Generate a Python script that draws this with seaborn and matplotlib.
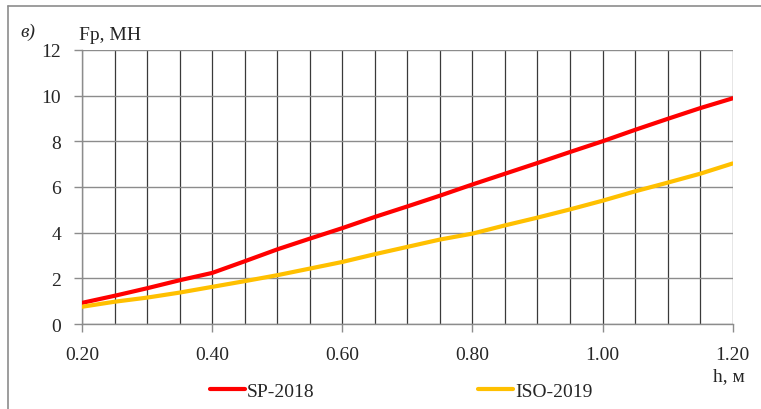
import numpy as np
import pandas as pd
import matplotlib
matplotlib.use("Agg")
import matplotlib.pyplot as plt
from matplotlib.lines import Line2D
from matplotlib.ticker import MultipleLocator
import seaborn as sns

# values
h = [0.20, 0.25, 0.30, 0.35, 0.40, 0.45, 0.50, 0.55, 0.60, 0.65, 0.70,
     0.75, 0.80, 0.85, 0.90, 0.95, 1.00, 1.05, 1.10, 1.15, 1.20]
sp_2018 = [0.93, 1.24, 1.57, 1.92, 2.24, 2.75, 3.27, 3.74, 4.20, 4.69, 5.15,
           5.62, 6.11, 6.58, 7.05, 7.53, 8.00, 8.50, 8.98, 9.45, 9.88]
iso_2019 = [0.76, 0.98, 1.16, 1.38, 1.63, 1.88, 2.14, 2.43, 2.72, 3.06, 3.38,
            3.70, 3.96, 4.32, 4.66, 5.02, 5.40, 5.81, 6.19, 6.58, 7.03]
series = ["SP-2018", "ISO-2019"]
colors = ["#FF0000", "#FFC000"]

df = pd.DataFrame({
    "h": h * 2,
    "Fp": sp_2018 + iso_2019,
    "series": [series[0]] * len(h) + [series[1]] * len(h),
})

sns.set_style("white")
plt.rcParams["font.family"] = ["Liberation Serif", "DejaVu Serif"]

fig = plt.figure(figsize=(7.61, 4.10), dpi=100)
ax = fig.add_axes([0.1078, 0.207, 0.855, 0.669])

sns.lineplot(data=df, x="h", y="Fp", hue="series", palette=colors,
             linewidth=3, ax=ax, legend=False, zorder=3)

ax.set_xlim(0.2, 1.2)
ax.set_ylim(0, 12)
ax.xaxis.set_major_locator(MultipleLocator(0.2))
ax.xaxis.set_minor_locator(MultipleLocator(0.05))
ax.yaxis.set_major_locator(MultipleLocator(2))
ax.xaxis.set_major_formatter(plt.FuncFormatter(lambda v, p: f"{v:.2f}"))

ax.grid(which="minor", axis="x", color="#3a3a3a", linewidth=0.9)
ax.grid(which="major", axis="x", color="#3a3a3a", linewidth=0.9)
ax.grid(which="major", axis="y", color="#8c8c8c", linewidth=1.0)
ax.tick_params(axis="both", which="major", labelsize=14, direction="out",
               length=6, width=1, color="#8c8c8c", bottom=True, left=True)
ax.tick_params(axis="x", which="major", pad=10)
ax.tick_params(axis="y", which="major", pad=9)
ax.tick_params(axis="x", which="minor", length=0)
for s in ["top", "right"]:
    ax.spines[s].set_visible(False)
for s in ["left", "bottom"]:
    ax.spines[s].set_color("#8c8c8c")
    ax.spines[s].set_linewidth(1.0)
ax.set_xlabel("")
ax.set_ylabel("")

fig.text(0.104, 0.893, "Fp, МН", fontsize=14, ha="left", va="bottom")
fig.text(0.979, 0.06, "h, м", fontsize=14, ha="right", va="bottom")
fig.text(0.027, 0.92, "в)", fontsize=14, style="italic", ha="left", va="center")

handles = [Line2D([], [], color=c, linewidth=3) for c in colors]
fig.legend(handles, series, loc="center", bbox_to_anchor=(0.527, 0.044),
           ncol=2, frameon=False, fontsize=14, handlelength=1.8,
           handletextpad=0.1, columnspacing=8.4)

# outer frame of the original figure
fig.add_artist(Line2D([0.011, 1.0], [0.982, 0.982], color="#8c8c8c",
                      linewidth=1.2, transform=fig.transFigure))
fig.add_artist(Line2D([0.011, 0.011], [0.0, 0.982], color="#8c8c8c",
                      linewidth=1.2, transform=fig.transFigure))

fig.savefig("out.png", dpi=100)
